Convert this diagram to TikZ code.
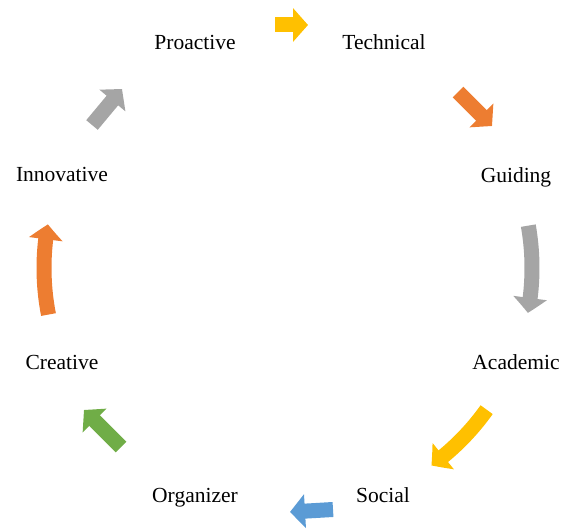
\documentclass[tikz,border=0pt]{standalone}
\usepackage{fontspec}
\setmainfont{Liberation Serif}
\usetikzlibrary{arrows.meta,bending}

\definecolor{offyellow}{HTML}{FFC000}
\definecolor{offorange}{HTML}{ED7D31}
\definecolor{offgray}{HTML}{A5A5A5}
\definecolor{offblue}{HTML}{5B9BD5}
\definecolor{offgreen}{HTML}{70AD47}

\begin{document}
\begin{tikzpicture}[x=1pt, y=1pt]
        \fontsize{21.5}{26}\selectfont
          \tikzset{
              mylabel/.style={anchor=base, inner sep=0pt},
              myarrow/.style={line width=15pt, -{Triangle[width=33pt, length=15pt, bend]}}
          }
          \useasboundingbox (0,0) rectangle (568,528);
          \coordinate (center) at (288,260);

          \node[mylabel] (proactive) at (195,478) {Proactive};
          \node[mylabel] (technical) at (384,478) {Technical};
          \node[mylabel] (guiding) at (516,345) {Guiding};
          \node[mylabel] (academic) at (516,158) {Academic};
          \node[mylabel] (social) at (383,26) {Social};
          \node[mylabel] (organizer) at (195,26) {Organizer};
          \node[mylabel] (creative) at (62,158) {Creative};
          \node[mylabel] (innovative) at (62,346) {Innovative};

          % arrow ends
          \coordinate (pt-a) at (275,503);
          \coordinate (pt-b) at (308,503);
          \coordinate (tg-a) at (458,436);
          \coordinate (tg-b) at (492,402);
          \coordinate (ga-a) at ([shift={(10:244)}]center);
          \coordinate (as-a) at ([shift={(-35.5:244)}]center);
          \coordinate (so-a) at (333,18.5);
          \coordinate (so-b) at (290,16);
          \coordinate (oc-a) at (121,81);
          \coordinate (oc-b) at (84,118);
          \coordinate (ci-a) at ([shift={(191:244)}]center);
          \coordinate (ip-a) at (92,403);
          \coordinate (ip-b) at (122,439);

          \draw[myarrow, offyellow] (pt-a) -- (pt-b);
          \draw[myarrow, offorange] (tg-a) -- (tg-b);
          \draw[myarrow, offgray] (ga-a) arc[start angle=10, end angle=-10.6, radius=244];
          \draw[myarrow, offyellow] (as-a) arc[start angle=-35.5, end angle=-54, radius=244];
          \draw[myarrow, offblue] (so-a) -- (so-b);
          \draw[myarrow, offgreen] (oc-a) -- (oc-b);
          \draw[myarrow, offorange] (ci-a) arc[start angle=191, end angle=169.7, radius=244];
          \draw[myarrow, offgray] (ip-a) -- (ip-b);
        \end{tikzpicture}
\end{document}
